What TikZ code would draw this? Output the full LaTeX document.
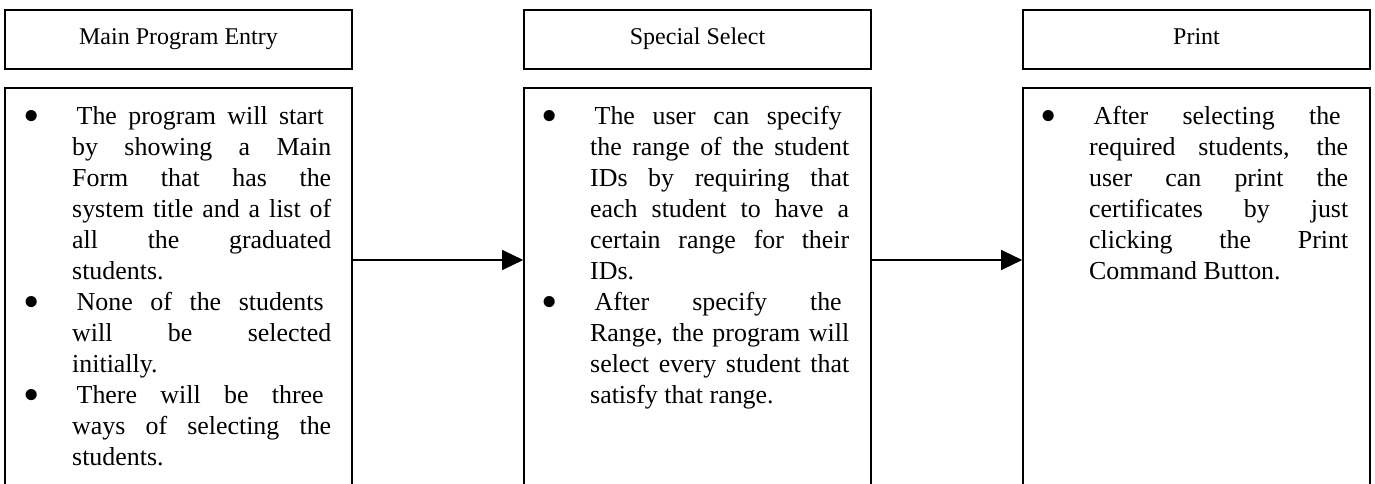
\documentclass[tikz,border=0pt]{standalone}
\usepackage{fontspec}
\setmainfont{Liberation Serif}
\usetikzlibrary{arrows.meta}

\newlength\colw
\setlength\colw{259bp}
% enlarged list bullet, centred on a zero-width box
\newcommand\bigbullet{\makebox[0pt]{\raisebox{-6.8bp}{\scalebox{1.8}{\textbullet}}}}
% first line of an item: hung bullet, small lead-in and trailing space, justified
\newcommand\fline[1]{\hbox to \colw{\strut\llap{\bigbullet\hspace{41bp}}\hspace*{4.5bp}#1\hspace*{7.5bp}}}
% justified inner line
\newcommand\jline[1]{\hbox to \colw{\strut#1}}
% last line of an item, natural width
\newcommand\lline[1]{\hbox{\strut#1}}

\tikzset{
  titlebox/.style={draw, line width=1.6bp, minimum width=347bp, minimum height=59bp,
    inner sep=0pt, font=\fontsize{24.1}{28}\selectfont, text height=15bp, text depth=5.4bp},
  panel/.style={draw, line width=1.6bp, minimum width=347bp, minimum height=430bp,
    inner sep=0pt, anchor=north},
  bodytext/.style={anchor=north west, inner sep=0pt,
    font=\fontsize{26}{31.1}\selectfont},
  flow/.style={line width=1.2bp, -{Triangle[length=21bp,width=20bp]}}
}

\begin{document}
\begin{tikzpicture}[x=1bp,y=-1bp]
\clip (0,0) rectangle (1375,484);
\fill[white] (0,0) rectangle (1375,484);

% headings
\node[titlebox] (t1) at (178.5,39.5) {Main Program Entry};
\node[titlebox] (t2) at (697.5,39.5) {Special Select};
\node[titlebox] (t3) at (1196.5,39.5) {Print};

% panels (run past the lower edge)
\node[panel] (p1) at (178.5,87) {};
\node[panel] (p2) at (697.5,87) {};
\node[panel] (p3) at (1196.5,87) {};

% panel texts
\node[bodytext] (b1) at (72,102.8) {\vtop{%
\fline{The program will start}
\jline{by showing a Main}
\jline{Form that has the}
\jline{system title and a list of}
\jline{all the graduated}
\lline{students.}
\fline{None of the students}
\jline{will be selected}
\lline{initially.}
\fline{There will be three}
\jline{ways of selecting the}
\lline{students.}}};

\node[bodytext] (b2) at (590,102.8) {\vtop{%
\fline{The user can specify}
\jline{the range of the student}
\jline{IDs by requiring that}
\jline{each student to have a}
\jline{certain range for their}
\lline{IDs.}
\fline{After specify the}
\jline{Range, the program will}
\jline{select every student that}
\lline{satisfy that range.}}};

\node[bodytext] (b3) at (1089,102.8) {\vtop{%
\fline{After selecting the}
\jline{required students, the}
\jline{user can print the}
\jline{certificates by just}
\jline{clicking the Print}
\lline{Command Button.}}};

% connectors
\coordinate (lane) at (0,260);
\draw[flow] (p1.east |- lane) -- (p2.west |- lane);
\draw[flow] (p2.east |- lane) -- (p3.west |- lane);
\end{tikzpicture}
\end{document}
